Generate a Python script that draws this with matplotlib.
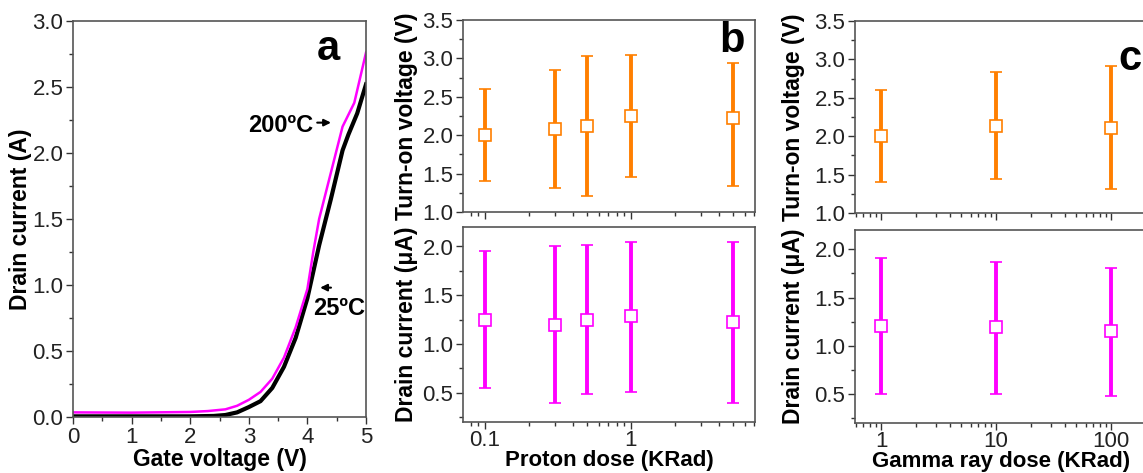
import numpy as np
import matplotlib.pyplot as plt
from matplotlib.ticker import MultipleLocator, LogLocator, NullFormatter

plt.rcParams['font.family'] = ['Liberation Sans', 'DejaVu Sans']

# panel a: transfer curves
v_200 = [0, 1, 2, 2.3, 2.6, 2.8, 3.0, 3.2, 3.4, 3.6, 3.8, 4.0, 4.1, 4.2, 4.4, 4.6, 4.8, 5.0]
i_200 = [0.035, 0.033, 0.038, 0.045, 0.058, 0.085, 0.13, 0.19, 0.29, 0.45, 0.68, 0.97, 1.25, 1.50, 1.85, 2.20, 2.38, 2.76]
v_25 = [0, 1, 2, 2.4, 2.6, 2.8, 3.0, 3.2, 3.4, 3.6, 3.8, 4.0, 4.2, 4.4, 4.6, 4.7, 4.85, 5.0]
i_25 = [0.005, 0.005, 0.005, 0.008, 0.015, 0.035, 0.075, 0.12, 0.22, 0.38, 0.60, 0.90, 1.30, 1.65, 2.02, 2.14, 2.30, 2.52]

# panel b: proton dose
proton_dose = [0.1, 0.3, 0.5, 1, 5]
p_von = [2.00, 2.08, 2.12, 2.25, 2.23]
p_von_lo = [1.40, 1.31, 1.21, 1.45, 1.34]
p_von_hi = [2.60, 2.85, 3.03, 3.05, 2.94]
p_id = [1.25, 1.20, 1.25, 1.29, 1.23]
p_id_lo = [0.55, 0.39, 0.49, 0.51, 0.39]
p_id_hi = [1.95, 2.00, 2.02, 2.05, 2.05]

# panel c: gamma ray dose
gamma_dose = [1, 10, 100]
g_von = [2.00, 2.13, 2.11]
g_von_lo = [1.40, 1.44, 1.31]
g_von_hi = [2.60, 2.83, 2.91]
g_id = [1.21, 1.19, 1.155]
g_id_lo = [0.50, 0.50, 0.48]
g_id_hi = [1.91, 1.865, 1.81]

orange = '#ff7f00'
magenta = '#ff00ff'
W, H = 1143, 473

fig = plt.figure(figsize=(11.43, 4.73), dpi=100)

def box(l, t, r, b):
    return [l / W, 1 - b / H, (r - l) / W, (b - t) / H]

def style(ax):
    for s in ax.spines.values():
        s.set_color('#555555')
        s.set_linewidth(1.2)
    ax.tick_params(which='both', direction='out', colors='#333333', labelsize=16,
                   labelcolor='#222222', top=False, right=False, pad=2)
    ax.tick_params(which='major', length=5, width=1)
    ax.tick_params(which='minor', length=3, width=1)

lab = dict(fontsize=16.5, fontweight='bold')
xlab = dict(fontsize=16, fontweight='bold')

# ---- a ----
ax = fig.add_axes(box(73, 21, 366, 417))
ax.plot(v_25, i_25, color='black', lw=3)
ax.plot(v_200, i_200, color=magenta, lw=1.8)
ax.set_xlim(0, 5)
ax.set_ylim(0, 3)
ax.xaxis.set_major_locator(MultipleLocator(1))
ax.xaxis.set_minor_locator(MultipleLocator(0.5))
ax.yaxis.set_major_locator(MultipleLocator(0.5))
ax.yaxis.set_minor_locator(MultipleLocator(0.25))
ax.set_yticklabels(['%.1f' % t for t in ax.get_yticks()])
style(ax)
ax.set_xlabel('Gate voltage (V)', labelpad=0, **lab)
ax.set_ylabel('Drain current (A)', **lab)
ax.yaxis.set_label_coords(-0.14, 0.5)
ax.text(0.87, 0.93, 'a', transform=ax.transAxes, fontsize=30, fontweight='bold',
        ha='center', va='center')
ax.annotate('', xy=(4.45, 2.23), xytext=(4.12, 2.23),
            arrowprops=dict(arrowstyle='-|>', color='black', lw=1.5, mutation_scale=10))
ax.text(4.10, 2.21, '200ºC', ha='right', va='center', fontsize=17, fontweight='bold')
ax.annotate('', xy=(4.17, 0.98), xytext=(4.45, 0.98),
            arrowprops=dict(arrowstyle='-|>', color='black', lw=1.5, mutation_scale=10))
ax.text(4.09, 0.82, '25ºC', ha='left', va='center', fontsize=17, fontweight='bold')

def err_panel(ax, x, y, lo, hi, color):
    y = np.array(y)
    yerr = [y - np.array(lo), np.array(hi) - y]
    ax.errorbar(x, y, yerr=yerr, fmt='s', color=color, ecolor=color, elinewidth=2.8,
                capsize=4, capthick=2.8, markersize=8.5, markerfacecolor='white',
                markeredgecolor=color, markeredgewidth=1.2, zorder=3)
    ax.set_xscale('log')
    ax.xaxis.set_major_locator(LogLocator(base=10))
    ax.xaxis.set_minor_locator(LogLocator(base=10, subs=np.arange(2, 10)))
    ax.xaxis.set_minor_formatter(NullFormatter())

def log_labels(ax, ticks):
    ax.set_xticks(ticks)
    ax.set_xticklabels([('%g' % t) for t in ticks])
    ax.tick_params(axis='x', which='both', pad=1)

# ---- b ----
bt = fig.add_axes(box(463, 20, 755, 212))
err_panel(bt, proton_dose, p_von, p_von_lo, p_von_hi, orange)
bt.set_xlim(0.0707, 7.07)
bt.set_ylim(1.0, 3.5)
bt.yaxis.set_major_locator(MultipleLocator(0.5))
bt.yaxis.set_minor_locator(MultipleLocator(0.25))
style(bt)
bt.set_xticks([0.1, 1])
bt.set_xticklabels([])
bt.set_ylabel('Turn-on voltage (V)', **lab)
bt.yaxis.set_label_coords(-0.155, 0.5)
bt.text(0.92, 0.89, 'b', transform=bt.transAxes, fontsize=30, fontweight='bold',
        ha='center', va='center')

bb = fig.add_axes(box(463, 227, 755, 422))
err_panel(bb, proton_dose, p_id, p_id_lo, p_id_hi, magenta)
bb.set_xlim(0.0707, 7.07)
bb.set_ylim(0.2, 2.2)
bb.yaxis.set_major_locator(MultipleLocator(0.5))
bb.yaxis.set_minor_locator(MultipleLocator(0.25))
style(bb)
log_labels(bb, [0.1, 1])
bb.set_xlabel('Proton dose (KRad)', labelpad=-1, **xlab)
bb.set_ylabel('Drain current (μA)', **lab)
bb.yaxis.set_label_coords(-0.155, 0.5)

# ---- c ----
ct = fig.add_axes(box(855, 21, 1147, 213))
err_panel(ct, gamma_dose, g_von, g_von_lo, g_von_hi, orange)
ct.set_xlim(0.594, 205)
ct.set_ylim(1.0, 3.5)
ct.yaxis.set_major_locator(MultipleLocator(0.5))
ct.yaxis.set_minor_locator(MultipleLocator(0.25))
style(ct)
ct.set_xticks([1, 10, 100])
ct.set_xticklabels([])
ct.set_ylabel('Turn-on voltage (V)', **lab)
ct.yaxis.set_label_coords(-0.17, 0.5)
ct.text(0.94, 0.80, 'c', transform=ct.transAxes, fontsize=30, fontweight='bold',
        ha='center', va='center')

cb = fig.add_axes(box(855, 230, 1147, 423))
err_panel(cb, gamma_dose, g_id, g_id_lo, g_id_hi, magenta)
cb.set_xlim(0.594, 205)
cb.set_ylim(0.2, 2.2)
cb.yaxis.set_major_locator(MultipleLocator(0.5))
cb.yaxis.set_minor_locator(MultipleLocator(0.25))
style(cb)
log_labels(cb, [1, 10, 100])
cb.set_xlabel('Gamma ray dose (KRad)', labelpad=-1, **xlab)
cb.set_ylabel('Drain current (μA)', **lab)
cb.yaxis.set_label_coords(-0.17, 0.5)

fig.savefig('out.png', dpi=100)
